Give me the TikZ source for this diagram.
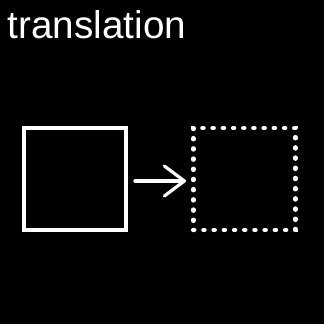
\documentclass[tikz,border=0pt]{standalone}
\usepackage{fontspec}
\setmainfont{Liberation Sans}
\usetikzlibrary{arrows.meta,positioning}

\begin{document}
\begin{tikzpicture}[
      x=1bp, y=1bp,
      squarebox/.style={draw=white, line width=4bp, minimum size=102bp, inner sep=0pt},
      ghostbox/.style={squarebox, line width=4.5bp, line cap=round, dash pattern=on 1bp off 9.2bp},
      arr/.style={-{Straight Barb[length=20bp,width=30bp,round]}, draw=white, line width=3.2bp, line cap=round}
    ]
      \fill[black] (0,0) rectangle (324,324);
      \useasboundingbox (0,0) rectangle (324,324);
      \node[anchor=base west, inner sep=0pt, text=white, font=\fontsize{38.8}{46}\selectfont] (title) at (7.5,286) {translation};
      \node[squarebox] (src) at (75,145) {};
      \node[ghostbox, right=63bp of src] (dst) {};
      \draw[arr, shorten <=7bp, shorten >=5bp] ([yshift=-2bp]src.east) -- ([yshift=-2bp]dst.west);
    \end{tikzpicture}
\end{document}
